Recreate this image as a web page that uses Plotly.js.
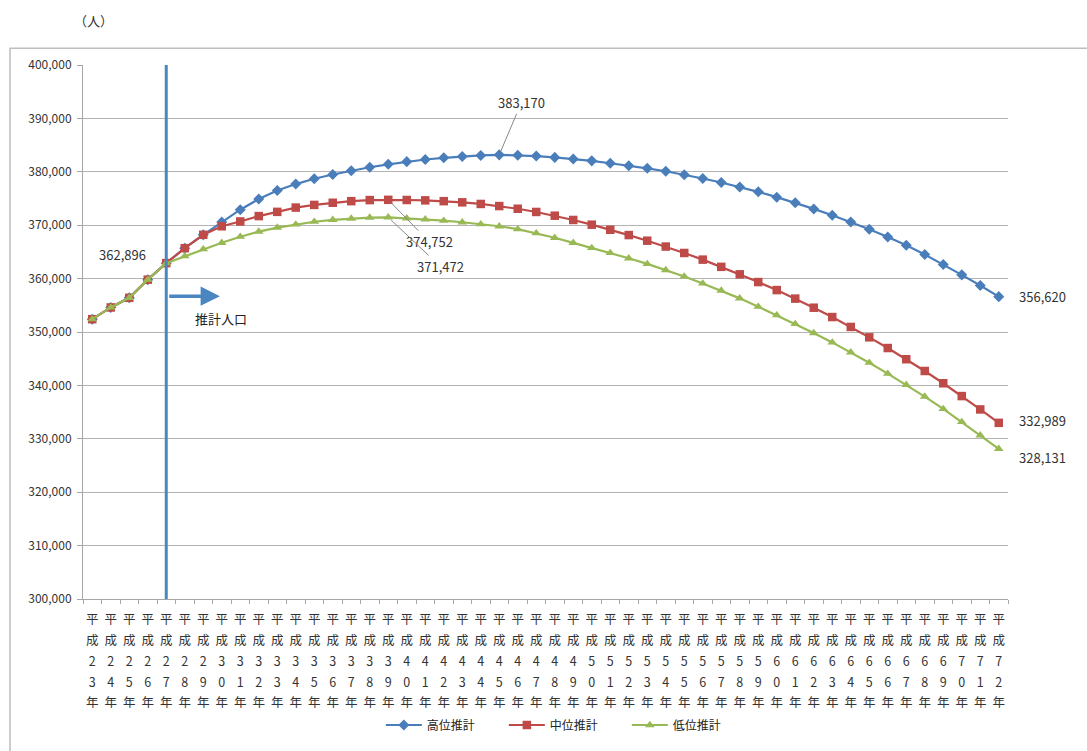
<!DOCTYPE html>
<html><head><meta charset="utf-8">
<script src="https://cdn.plot.ly/plotly-3.0.1.min.js"></script>
<style>html,body{margin:0;padding:0;background:#fff}#chart{width:1087px;height:751px}</style>
</head><body><div id="chart"></div>
<script>
const categories = ['平成23年','平成24年','平成25年','平成26年','平成27年','平成28年','平成29年','平成30年','平成31年','平成32年',
'平成33年','平成34年','平成35年','平成36年','平成37年','平成38年','平成39年','平成40年','平成41年','平成42年',
'平成43年','平成44年','平成45年','平成46年','平成47年','平成48年','平成49年','平成50年','平成51年','平成52年',
'平成53年','平成54年','平成55年','平成56年','平成57年','平成58年','平成59年','平成60年','平成61年','平成62年',
'平成63年','平成64年','平成65年','平成66年','平成67年','平成68年','平成69年','平成70年','平成71年','平成72年'];
const high = [352400,354600,356400,359800,362896,365700,368200,370600,372900,374900,
376500,377700,378700,379500,380200,380850,381400,381900,382300,382620,
382880,383060,383170,383100,382950,382700,382400,382050,381600,381150,
380650,380100,379450,378750,378000,377150,376250,375250,374200,373050,
371850,370600,369250,367800,366250,364500,362650,360700,358700,356620];
const mid = [352400,354600,356400,359800,362896,365700,368200,369800,370700,371700,
372500,373300,373800,374200,374500,374700,374752,374720,374650,374500,
374280,373980,373580,373080,372480,371780,370980,370100,369150,368150,
367100,366000,364800,363550,362200,360800,359350,357850,356250,354550,
352800,350950,349000,347000,344900,342700,340400,338000,335500,332989];
const low = [352400,354600,356400,359800,362896,364200,365500,366700,367850,368800,
369550,370150,370650,371000,371250,371420,371472,371300,371100,370850,
370550,370200,369800,369250,368500,367650,366700,365750,364800,363800,
362750,361600,360400,359100,357750,356300,354750,353150,351500,349800,
348050,346200,344250,342200,340100,337900,335600,333150,330650,328131];
const seriesNames = ['高位推計','中位推計','低位推計'];
const unitLabel = '（人）';
const estimateLabel = '推計人口';
const estimateStart = '平成27年';

const FONT = '"Noto Sans CJK JP", "Noto Sans", sans-serif';
const idx = categories.map((c,i)=>i);
const tickText = categories.map(c => c.split('').map(ch => '<span style="font-size:12.5px">'+ch+'</span>').join('<br>'));
const fmt = v => v.toLocaleString('en-US');
const startIdx = categories.indexOf(estimateStart);
const last = categories.length - 1;
const peakHigh = high.indexOf(Math.max(...high));
const peakMid = mid.indexOf(Math.max(...mid));
const peakLow = low.indexOf(Math.max(...low));

const traces = [
  {x: idx, y: high, name: seriesNames[0], mode:'lines+markers', line:{color:'#4a7ebb', width:2.2}, marker:{symbol:'diamond', size:8.5, color:'#4a7ebb'}},
  {x: idx, y: mid, name: seriesNames[1], mode:'lines+markers', line:{color:'#be4b48', width:2.2}, marker:{symbol:'square', size:8.5, color:'#be4b48'}},
  {x: idx, y: low, name: seriesNames[2], mode:'lines+markers', line:{color:'#98b954', width:2.2}, marker:{symbol:'triangle-up', size:8.5, color:'#98b954'}}
];

const labelFont = {family: FONT, size: 13, color: '#333'};
const annotations = [
  {xref:'paper', yref:'paper', x:-0.012, y:1.083, text:unitLabel, showarrow:false, xanchor:'left', yanchor:'middle', font:{family:FONT,size:13,color:'#333'}},
  {x:startIdx, y:mid[startIdx], text:fmt(mid[startIdx]), showarrow:false, xanchor:'center', yanchor:'middle', xshift:-44, yshift:9, font:labelFont},
  {x:peakHigh, y:high[peakHigh], text:fmt(high[peakHigh]), showarrow:true, arrowhead:0, arrowwidth:1, arrowcolor:'#888', ax:22, ay:-52, standoff:4, font:labelFont},
  {x:peakMid, y:mid[peakMid], text:fmt(mid[peakMid]), showarrow:true, arrowhead:0, arrowwidth:1, arrowcolor:'#888', ax:41, ay:42, standoff:4, font:labelFont},
  {x:peakLow, y:low[peakLow], text:fmt(low[peakLow]), showarrow:true, arrowhead:0, arrowwidth:1, arrowcolor:'#888', ax:52, ay:49, standoff:4, font:labelFont},
  {x:last, y:high[last], text:fmt(high[last]), showarrow:false, xanchor:'left', yanchor:'middle', xshift:18, font:labelFont},
  {x:last, y:mid[last], text:fmt(mid[last]), showarrow:false, xanchor:'left', yanchor:'middle', xshift:18, yshift:2, font:labelFont},
  {x:last, y:low[last], text:fmt(low[last]), showarrow:false, xanchor:'left', yanchor:'middle', xshift:18, yshift:-9, font:labelFont},
  {x:startIdx+2.9, y:356700, axref:'x', ayref:'y', ax:startIdx+0.08, ay:356700, text:'', showarrow:true, arrowhead:2, arrowsize:1.1, arrowwidth:3.5, arrowcolor:'#4a86c0'},
  {x:startIdx+1.45, y:352500, text:estimateLabel, showarrow:false, xanchor:'left', yanchor:'middle', font:{family:FONT,size:13,color:'#222'}}
];

const shapes = [
  {type:'line', xref:'x', yref:'paper', x0:startIdx, x1:startIdx, y0:0, y1:1, line:{color:'#4a86c0', width:3}, layer:'above'},
  {type:'rect', xref:'paper', yref:'paper', x0:-0.0789, x1:1.0875, y0:-0.3, y1:1.0314, line:{color:'#bdbdbd', width:1.5}, fillcolor:'rgba(0,0,0,0)'}
];

const layout = {
  width:1087, height:751,
  margin:{l:83, r:79, t:65, b:144},
  paper_bgcolor:'#fff', plot_bgcolor:'#fff',
  font:{family:FONT, color:'#404040'},
  showlegend:true,
  legend:{orientation:'h', x:0.322, xanchor:'left', y:-0.236, yanchor:'middle', font:{family:FONT, size:12, color:'#222'}, itemwidth:36, entrywidth:72, tracegroupgap:0},
  xaxis:{type:'linear', range:[-0.5, last+0.5], tickmode:'array', tickvals:idx, ticktext:tickText, tickangle:0,
         tickfont:{family:FONT, size:16, color:'#333'}, showgrid:false, zeroline:false,
         showline:true, linecolor:'#a6a6a6', linewidth:1, ticks:'', ticklabelstandoff:5, fixedrange:true,
         minor:{tick0:-0.5, dtick:1, ticks:'outside', ticklen:4, tickcolor:'#a6a6a6', showgrid:false}},
  yaxis:{range:[300000,400000], dtick:10000, tick0:300000, tickformat:',d', showgrid:true, gridcolor:'#b3b3b3', gridwidth:1,
         zeroline:false, showline:true, linecolor:'#a6a6a6', linewidth:1, ticks:'outside', ticklen:5, tickcolor:'#a6a6a6',
         tickfont:{family:FONT, size:12, color:'#333'}, ticklabelstandoff:3},
  annotations: annotations,
  shapes: shapes
};
Plotly.newPlot('chart', traces, layout, {displayModeBar:false, staticPlot:true});
</script></body></html>
